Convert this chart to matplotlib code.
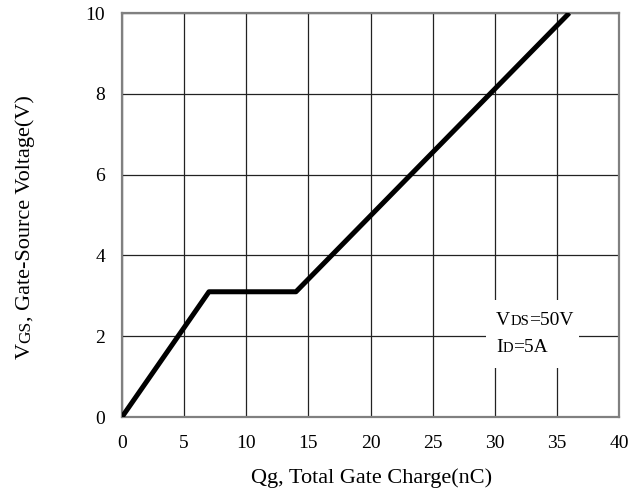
import matplotlib
matplotlib.use("Agg")
import matplotlib.pyplot as plt
from matplotlib.patches import Rectangle
from matplotlib.transforms import IdentityTransform

# Data
qg = [0, 7, 14, 36]
vgs = [0, 3.1, 3.1, 10]
x_ticks = [0, 5, 10, 15, 20, 25, 30, 35, 40]
y_ticks = [0, 2, 4, 6, 8, 10]

FONT = "Liberation Serif"
FS = 14
LFS = 16
SUB = 10.5
LSUB = 12.5

W, H = 643, 497
fig = plt.figure(figsize=(W / 100, H / 100), dpi=100)
L, R, T, B = 122, 619, 13, 417
ax = fig.add_axes([L / W, (H - B) / H, (R - L) / W, (B - T) / H])

ax.plot(qg, vgs, color="black", lw=3.6, solid_capstyle="butt", zorder=4)
ax.set_xlim(0, 40)
ax.set_ylim(0, 10)
ax.set_xticks(x_ticks)
ax.set_yticks(y_ticks)
ax.grid(True, color="#222222", lw=0.9)
ax.set_axisbelow(True)
for s in ax.spines.values():
    s.set_color("#808080")
    s.set_linewidth(1.6)
ax.tick_params(length=0, labelsize=FS)
ax.tick_params(axis="x", pad=13)
ax.tick_params(axis="y", pad=12)
for lab in ax.get_xticklabels() + ax.get_yticklabels():
    lab.set_fontfamily(FONT)

# white box behind annotation
ax.add_patch(Rectangle((29.3, 1.22), 7.5, 1.68, facecolor="white",
                       edgecolor="none", zorder=3))

renderer = fig.canvas.get_renderer()


def width_of(s, size):
    t = fig.text(0, 0, s, fontsize=size, family=FONT)
    w = t.get_window_extent(renderer).width
    t.remove()
    return w


def rich(x, y, parts, rotation=0, center=False):
    total = sum(width_of(s, sz) for s, sz in parts)
    pos = -total / 2 if center else 0
    for s, sz in parts:
        w = width_of(s, sz)
        if rotation == 0:
            px, py = x + pos, y
        else:
            px, py = x, y + pos
        fig.text(px, py, s, fontsize=sz, family=FONT, rotation=rotation,
                 rotation_mode="anchor", ha="left", va="baseline",
                 transform=IdentityTransform(), zorder=6)
        pos += w


def data_px(x, y):
    return ax.transData.transform((x, y))

# annotation
px, py = data_px(30.1, 2.27)
rich(px, py, [("V", FS), ("DS", SUB), ("=50V", FS)])
px, py = data_px(30.1, 1.6)
rich(px, py, [("I", FS), ("D", SUB), ("=5A", FS)])

# axis labels (pixel coords, origin bottom-left)
rich(372, H - 483, [("Qg, Total Gate Charge(nC)", LFS)], center=True)
rich(30, H - 227, [("V", LFS), ("GS", LSUB), (", Gate-Source Voltage(V)", LFS)],
     rotation=90, center=True)

fig.savefig("out.png", dpi=100)
